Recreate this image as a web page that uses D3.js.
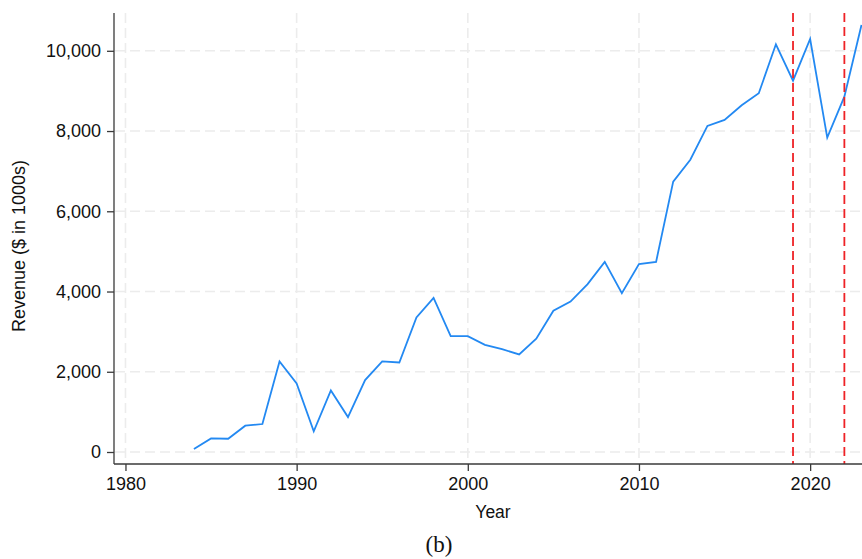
<!DOCTYPE html>
<html>
<head>
<meta charset="utf-8">
<script src="https://cdn.jsdelivr.net/npm/d3@7"></script>
<style>
  html, body { margin: 0; padding: 0; background: #fff; }
  svg { display: block; }
</style>
</head>
<body>
<svg id="chart" width="862" height="559"></svg>
<script>
// Annual revenue, thousands of dollars
const years = [1984, 1985, 1986, 1987, 1988, 1989, 1990, 1991, 1992, 1993,
  1994, 1995, 1996, 1997, 1998, 1999, 2000, 2001, 2002, 2003,
  2004, 2005, 2006, 2007, 2008, 2009, 2010, 2011, 2012, 2013,
  2014, 2015, 2016, 2017, 2018, 2019, 2020, 2021, 2022, 2023];
const revenue = [75, 340, 330, 655, 697, 2257, 1709, 514, 1535, 871,
  1793, 2257, 2232, 3353, 3843, 2889, 2889, 2672, 2565, 2431,
  2822, 3522, 3751, 4184, 4740, 3960, 4682, 4740, 6740, 7285,
  8127, 8277, 8643, 8941, 10162, 9255, 10294, 7836, 8857, 10643];
const markerYears = [2019, 2022];
const xTicks = [1980, 1990, 2000, 2010, 2020];
const yTicks = [0, 2000, 4000, 6000, 8000, 10000];

const svg = d3.select("#chart");
const plotL = 114, plotR = 862, plotT = 13, plotB = 464;

const x = d3.scaleLinear().domain([1979.33, 2023.03]).range([plotL, plotR]);
const y = d3.scaleLinear().domain([-299, 10942]).range([plotB, plotT]);

const sans = "'Liberation Sans', Arial, Helvetica, sans-serif";

// grid
const grid = svg.append("g").attr("stroke", "#ececec").attr("stroke-width", 1.6)
  .attr("stroke-dasharray", "10,5");
grid.selectAll("line.h").data(yTicks).join("line").attr("class", "h")
  .attr("x1", plotL + 1).attr("x2", plotR)
  .attr("y1", d => y(d)).attr("y2", d => y(d));
grid.selectAll("line.v").data(xTicks).join("line").attr("class", "v")
  .attr("x1", d => x(d)).attr("x2", d => x(d))
  .attr("y1", plotT).attr("y2", plotB - 1);

// revenue series
const line = d3.line().x(d => x(d[0])).y(d => y(d[1]));
svg.append("path")
  .datum(years.map((yr, i) => [yr, revenue[i]]))
  .attr("fill", "none")
  .attr("stroke", "#2389f2")
  .attr("stroke-width", 1.8)
  .attr("stroke-linejoin", "miter")
  .attr("d", line);

// event markers
svg.append("g").selectAll("line").data(markerYears).join("line")
  .attr("x1", d => x(d)).attr("x2", d => x(d))
  .attr("y1", plotT).attr("y2", plotB)
  .attr("stroke", "#ee2226").attr("stroke-width", 1.8)
  .attr("stroke-dasharray", "9,5");

// axes
const yAxis = svg.append("g").attr("transform", `translate(${plotL},0)`)
  .call(d3.axisLeft(y).tickValues(yTicks).tickFormat(d3.format(",")).tickSize(7).tickPadding(6));
const xAxis = svg.append("g").attr("transform", `translate(0,${plotB})`)
  .call(d3.axisBottom(x).tickValues(xTicks).tickFormat(d3.format("d")).tickSize(7).tickPadding(6));

[yAxis, xAxis].forEach(g => {
  g.select(".domain").attr("stroke", "#3a3a3a").attr("stroke-width", 1.3);
  g.selectAll(".tick line").attr("stroke", "#3a3a3a").attr("stroke-width", 1.3);
  g.selectAll(".tick text").attr("fill", "#111").attr("font-family", sans).attr("font-size", 18);
});
// domain lines without end caps
yAxis.select(".domain").attr("d", `M0,${plotT}V${plotB}`);
xAxis.select(".domain").attr("d", `M${plotL},0H${plotR}`);

// titles
svg.append("text")
  .attr("transform", `translate(24.5,246) rotate(-90)`)
  .attr("text-anchor", "middle")
  .attr("font-family", sans).attr("font-size", 18).attr("fill", "#111")
  .text("Revenue ($ in 1000s)");
svg.append("text")
  .attr("x", 493).attr("y", 518)
  .attr("text-anchor", "middle")
  .attr("font-family", sans).attr("font-size", 17.5).attr("fill", "#111")
  .text("Year");
svg.append("text")
  .attr("x", 439).attr("y", 552)
  .attr("text-anchor", "middle")
  .attr("font-family", "'Liberation Serif', 'Times New Roman', serif")
  .attr("font-size", 23).attr("fill", "#111")
  .text("(b)");
</script>
</body>
</html>
